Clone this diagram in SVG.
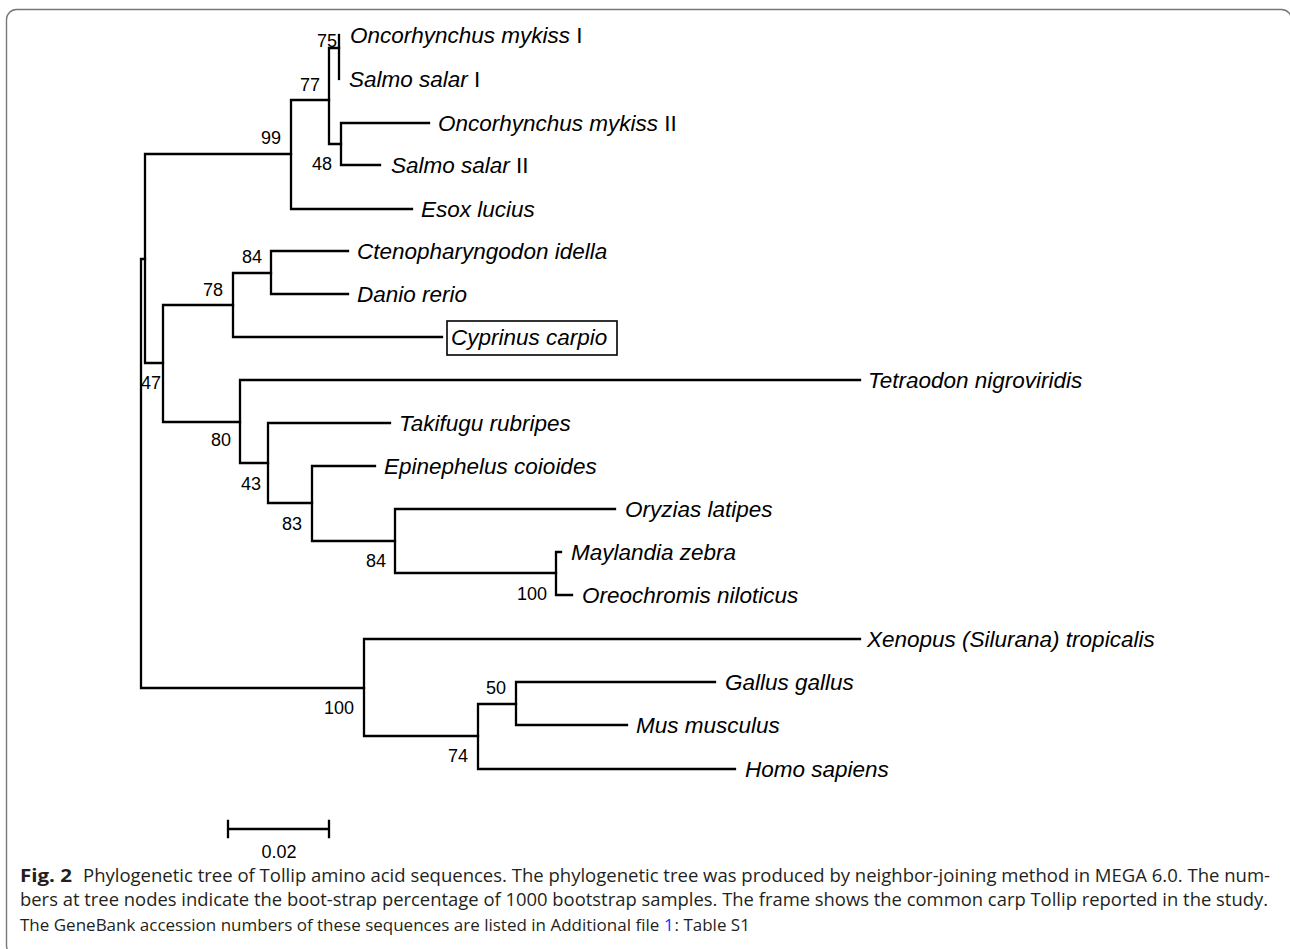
<svg xmlns="http://www.w3.org/2000/svg" width="1290" height="949" viewBox="0 0 1290 949">
<style>
.br{fill:none;stroke:#000;stroke-width:2.3;stroke-linecap:square}
.lf{font-family:"Liberation Sans",Arial,sans-serif;font-size:22.5px;font-style:italic;fill:#000}
.up{font-style:normal}
.bs{font-family:"Liberation Sans",Arial,sans-serif;font-size:18px;fill:#000;text-anchor:end}
.cap{font-family:"Open Sans","Noto Sans",sans-serif;font-size:17.5px;fill:#231f20}
.c3{font-size:17px}
</style>
<rect x="6.5" y="9.5" width="1285" height="946" rx="10" fill="#fff" stroke="#777" stroke-width="1.4"/>
<g id="connectors" class="br">
<path d="M141 259V688M141 259H145M141 688H364"/>
<path d="M145 154V363M145 154H291M145 363H163"/>
<path d="M291 100V209M291 100H329M291 209H412"/>
<path d="M329 48V144M329 48H339M329 144H341"/>
<path d="M339 35V79"/>
<path d="M341 123V165M341 123H429M341 165H380"/>
<path d="M163 305V422M163 305H233M163 422H240"/>
<path d="M233 273V337M233 273H271M233 337H442"/>
<path d="M271 251V294M271 251H348M271 294H348"/>
<path d="M240 380V463M240 380H860M240 463H268"/>
<path d="M268 423V503M268 423H390M268 503H312"/>
<path d="M312 466V541M312 466H375M312 541H395"/>
<path d="M395 509V573M395 509H615M395 573H556"/>
<path d="M556 552V595M556 552H561M556 595H572"/>
<path d="M364 639V736M364 639H860M364 736H478"/>
<path d="M478 704V769M478 704H516M478 769H735"/>
<path d="M516 682V725M516 682H715M516 725H627"/>
</g>
<g id="leaf-omykiss1"><text class="lf" x="350" y="43">Oncorhynchus mykiss<tspan class="up"> I</tspan></text></g>
<g id="leaf-ssalar1"><text class="lf" x="349" y="87">Salmo salar<tspan class="up"> I</tspan></text></g>
<g id="leaf-omykiss2"><text class="lf" x="438" y="131">Oncorhynchus mykiss<tspan class="up"> II</tspan></text></g>
<g id="leaf-ssalar2"><text class="lf" x="391" y="173">Salmo salar<tspan class="up"> II</tspan></text></g>
<g id="leaf-esox"><text class="lf" x="421" y="217">Esox lucius</text></g>
<g id="leaf-cteno"><text class="lf" x="357" y="259">Ctenopharyngodon idella</text></g>
<g id="leaf-danio"><text class="lf" x="357" y="302">Danio rerio</text></g>
<g id="leaf-cyprinus"><rect x="447" y="321" width="170" height="34" fill="none" stroke="#000" stroke-width="1.6"/><text class="lf" x="451" y="345">Cyprinus carpio</text></g>
<g id="leaf-tetraodon"><text class="lf" x="868" y="388">Tetraodon nigroviridis</text></g>
<g id="leaf-takifugu"><text class="lf" x="399" y="431">Takifugu rubripes</text></g>
<g id="leaf-epinephelus"><text class="lf" x="384" y="474">Epinephelus coioides</text></g>
<g id="leaf-oryzias"><text class="lf" x="625" y="517">Oryzias latipes</text></g>
<g id="leaf-maylandia"><text class="lf" x="571" y="560">Maylandia zebra</text></g>
<g id="leaf-oreochromis"><text class="lf" x="582" y="603">Oreochromis niloticus</text></g>
<g id="leaf-xenopus"><text class="lf" x="867" y="647">Xenopus (Silurana) tropicalis</text></g>
<g id="leaf-gallus"><text class="lf" x="725" y="690">Gallus gallus</text></g>
<g id="leaf-mus"><text class="lf" x="636" y="733">Mus musculus</text></g>
<g id="leaf-homo"><text class="lf" x="745" y="777">Homo sapiens</text></g>
<g id="bootstrap">
<text class="bs" x="337" y="47">75</text>
<text class="bs" x="320" y="91">77</text>
<text class="bs" x="281" y="144">99</text>
<text class="bs" x="332" y="170">48</text>
<text class="bs" x="262" y="263">84</text>
<text class="bs" x="223" y="296">78</text>
<text class="bs" x="161" y="389">47</text>
<text class="bs" x="231" y="446">80</text>
<text class="bs" x="261" y="490">43</text>
<text class="bs" x="302" y="530">83</text>
<text class="bs" x="386" y="567">84</text>
<text class="bs" x="547" y="600">100</text>
<text class="bs" x="354" y="714">100</text>
<text class="bs" x="506" y="694">50</text>
<text class="bs" x="468" y="762">74</text>
</g>
<g id="scalebar">
<path class="br" d="M228 829H329M228 821V837M329 821V837"/>
<text class="bs" x="279" y="858" style="text-anchor:middle">0.02</text>
</g>
<g id="caption">
<text class="cap" x="20" y="882" textLength="52" lengthAdjust="spacingAndGlyphs" style="font-weight:bold">Fig. 2</text>
<text class="cap" x="83" y="882" textLength="1187" lengthAdjust="spacingAndGlyphs">Phylogenetic tree of Tollip amino acid sequences. The phylogenetic tree was produced by neighbor-joining method in MEGA 6.0. The num-</text>
<text class="cap" x="20" y="906" textLength="1248" lengthAdjust="spacingAndGlyphs">bers at tree nodes indicate the boot-strap percentage of 1000 bootstrap samples. The frame shows the common carp Tollip reported in the study.</text>
<text class="cap c3" x="20" y="931">The GeneBank accession numbers of these sequences are listed in Additional file</text>
<text class="cap c3" x="664" y="931" style="fill:#2a2aff">1</text>
<text class="cap c3" x="674.5" y="931">: Table S1</text>
</g>
</svg>
